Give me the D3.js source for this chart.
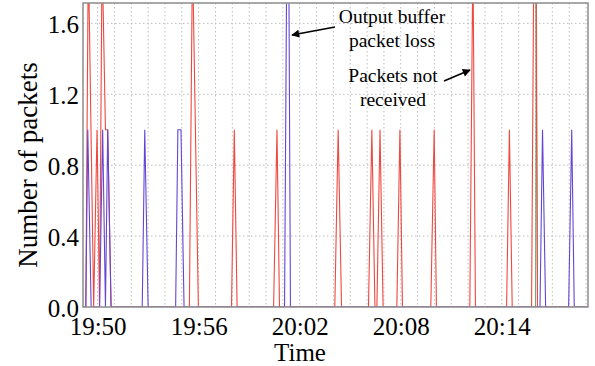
<!DOCTYPE html>
<html>
<head>
<meta charset="utf-8">
<script src="https://cdn.jsdelivr.net/npm/d3@7/dist/d3.min.js"></script>
<style>
	html, body { margin: 0; padding: 0; background: #fff; }
	svg { display: block; font-family: "Liberation Serif", "Times New Roman", serif; }
</style>
</head>
<body>
<svg id="chart" width="595" height="366"></svg>
<script>
	// x range and tick labels
	var xDomain = ['19:49:08', '20:19:07'];
	var xTickLabels = ['19:50', '19:56', '20:02', '20:08', '20:14'];
	var yTicks = [0, 0.4, 0.8, 1.2, 1.6];
	var yMax = 1.715;

	// Packets not received (red)
	var redTimes = ['19:49:08', '19:49:18', '19:49:27', '19:49:46', '19:49:58', '19:50:07', '19:50:16', '19:50:28', '19:50:36', '19:50:48',
		'19:55:27', '19:55:38', '19:55:59', '19:57:57', '19:58:07', '19:58:17', '20:00:27', '20:00:39', '20:00:48',
		'20:04:05', '20:04:17', '20:04:29', '20:06:05', '20:06:17', '20:06:28', '20:06:35', '20:06:46', '20:06:57',
		'20:07:46', '20:07:57', '20:08:06', '20:09:47', '20:09:59', '20:10:07', '20:12:06', '20:12:17', '20:12:26',
		'20:14:17', '20:14:27', '20:14:37', '20:15:46', '20:15:58', '20:16:07', '20:19:07'];
	var redValues = [0, 0, 2, 0, 1, 0, 2, 1, 1, 0,
		0, 2, 0, 0, 1, 0, 0, 1, 0,
		0, 1, 0, 0, 1, 0, 0, 1, 0,
		0, 1, 0, 0, 1, 0, 0, 2, 0,
		0, 1, 0, 0, 3, 0, 0];

	// Output buffer packet loss (blue)
	var blueTimes = ['19:49:08', '19:49:18', '19:49:25', '19:49:37', '19:50:07', '19:50:18', '19:50:28', '19:50:36', '19:50:48',
		'19:52:39', '19:52:48', '19:53:00', '19:54:38', '19:54:46', '19:54:57', '19:55:08',
		'20:01:06', '20:01:18', '20:01:27', '20:16:16', '20:16:25', '20:16:36', '20:17:58', '20:18:09', '20:18:18', '20:19:07'];
	var blueValues = [0, 0, 1, 0, 0, 1, 0, 1, 0,
		0, 1, 0, 0, 1, 1, 0,
		0, 3, 0, 0, 1, 0, 0, 1, 0, 0];

	// third trace (green)
	var greenTimes = ['20:16:00', '20:16:03', '20:16:07'];
	var greenValues = [0, 2, 0];

	var margin = {top: 3, right: 7, bottom: 59, left: 83};
	var width = 595 - margin.left - margin.right;
	var height = 366 - margin.top - margin.bottom;

	var parse_time = d3.timeParse('%H:%M:%S');
	var parse_tick = d3.timeParse('%H:%M');

	function to_points(times, values) {
		return times.map(function (t, i) { return {t: parse_time(t), v: values[i]}; });
	}

	var svg = d3.select('#chart');
	var g = svg.append('g').attr('transform', 'translate(' + margin.left + ',' + margin.top + ')');

	var x = d3.scaleTime().domain(xDomain.map(parse_time)).range([0, width]);
	var y = d3.scaleLinear().domain([0, yMax]).range([height, 0]);

	// dotted grid, one line per minute and per y tick
	g.append('g').selectAll('line').data(x.ticks(d3.timeMinute.every(1))).enter().append('line')
		.attr('x1', function (d) { return x(d); }).attr('x2', function (d) { return x(d); })
		.attr('y1', 0).attr('y2', height)
		.attr('stroke', '#bdbdbd').attr('stroke-width', 1).attr('stroke-dasharray', '1.5,2.5');
	g.append('g').selectAll('line').data(yTicks.slice(1)).enter().append('line')
		.attr('x1', 0).attr('x2', width)
		.attr('y1', function (d) { return y(d); }).attr('y2', function (d) { return y(d); })
		.attr('stroke', '#bdbdbd').attr('stroke-width', 1).attr('stroke-dasharray', '1.5,2.5');

	g.append('clipPath').attr('id', 'plot-clip').append('rect').attr('width', width).attr('height', height);

	var line = d3.line().x(function (d) { return x(d.t); }).y(function (d) { return y(d.v); });
	// green first so the red spike stays on top of it
	var series = [
		{pts: to_points(greenTimes, greenValues), color: '#5f9f6a', w: 0.9},
		{pts: to_points(redTimes, redValues), color: '#f0483f', w: 1.1},
		{pts: to_points(blueTimes, blueValues), color: '#6446d4', w: 1.1}
	];
	g.append('g').attr('clip-path', 'url(#plot-clip)').selectAll('path').data(series).enter().append('path')
		.attr('d', function (d) { return line(d.pts); })
		.attr('fill', 'none').attr('stroke', function (d) { return d.color; }).attr('stroke-width', function (d) { return d.w; });

	// box
	g.append('rect').attr('width', width).attr('height', height)
		.attr('fill', 'none').attr('stroke', '#8c8c8c').attr('stroke-width', 1.5);

	// axes
	var xAxis = d3.axisBottom(x).tickValues(xTickLabels.map(parse_tick)).tickFormat(d3.timeFormat('%H:%M')).tickSize(0).tickPadding(10);
	var xg = g.append('g').attr('transform', 'translate(0,' + height + ')').call(xAxis);
	var yAxis = d3.axisLeft(y).tickValues(yTicks).tickFormat(d3.format('.1f')).tickSize(0).tickPadding(4);
	var yg = g.append('g').call(yAxis);
	[xg, yg].forEach(function (a) {
		a.select('.domain').remove();
		a.selectAll('text').attr('font-family', '"Liberation Serif", serif').attr('font-size', 25).attr('fill', '#000');
	});
	yg.selectAll('text').attr('dy', '0.36em');

	svg.append('text').attr('x', 300).attr('y', 361).attr('text-anchor', 'middle')
		.attr('font-size', 25).text('Time');
	svg.append('text').attr('transform', 'translate(37,165) rotate(-90)')
		.attr('text-anchor', 'middle').attr('font-size', 27).text('Number of packets');

	// annotations
	svg.append('defs').append('marker').attr('id', 'arrow').attr('viewBox', '0 0 10 10')
		.attr('refX', 9).attr('refY', 5).attr('markerWidth', 6).attr('markerHeight', 5).attr('orient', 'auto')
		.append('path').attr('d', 'M0,0 L10,5 L0,10 z').attr('fill', '#000');

	var notes = [
		{lines: ['Output buffer', 'packet loss'], cx: 392, y0: 23, from: [335, 27], to: [292, 35]},
		{lines: ['Packets not', 'received'], cx: 393, y0: 82, from: [444, 81], to: [470, 70]}
	];
	notes.forEach(function (n) {
		n.lines.forEach(function (s, i) {
			svg.append('text').attr('x', n.cx).attr('y', n.y0 + i * 24).attr('text-anchor', 'middle')
				.attr('font-size', 19.5).text(s);
		});
		svg.append('line').attr('x1', n.from[0]).attr('y1', n.from[1]).attr('x2', n.to[0]).attr('y2', n.to[1])
			.attr('stroke', '#000').attr('stroke-width', 1.6).attr('marker-end', 'url(#arrow)');
	});
</script>
</body>
</html>
